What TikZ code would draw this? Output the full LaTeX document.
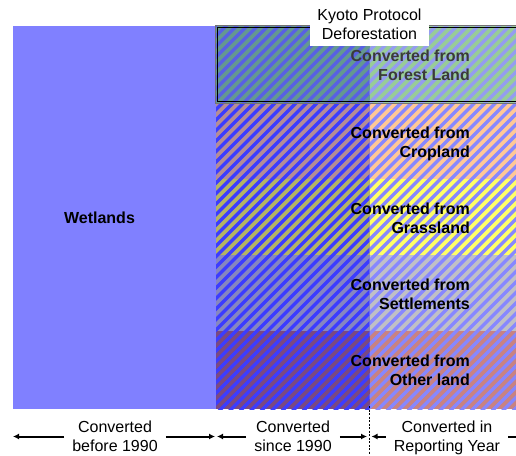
\documentclass[tikz,border=0pt]{standalone}
\usepackage{fontspec}
\setmainfont{Liberation Sans}
\usetikzlibrary{arrows.meta}
\definecolor{wet}{RGB}{128,128,255}
\definecolor{forL}{RGB}{100,152,145}
\definecolor{forR}{RGB}{152,204,152}
\definecolor{cropL}{RGB}{180,140,150}
\definecolor{cropR}{RGB}{255,200,150}
\definecolor{grassL}{RGB}{180,180,100}
\definecolor{grassR}{RGB}{255,255,102}
\definecolor{setL}{RGB}{134,134,192}
\definecolor{setR}{RGB}{192,192,198}
\definecolor{othL}{RGB}{122,72,130}
\definecolor{othR}{RGB}{200,130,130}
\definecolor{stripeL}{RGB}{60,60,255}
\definecolor{stripeR}{RGB}{135,135,255}
\definecolor{fstripeL}{RGB}{88,96,228}
\definecolor{fstripeR}{RGB}{148,156,240}
\definecolor{fortext}{RGB}{58,58,58}
\begin{document}
\begin{tikzpicture}[x=1pt,y=-1pt,
  rowlabel/.style={anchor=north east, align=right, inner sep=0pt, font=\bfseries\fontsize{16}{19.5}\selectfont},
  botlabel/.style={anchor=north, align=center, inner xsep=8pt, inner ysep=0pt, font=\fontsize{16}{19.5}\selectfont},
  arr/.style={line width=2pt, -{Latex[length=6pt,width=6pt]}},
  stripes/.style={line width=3.5pt}]
\useasboundingbox (0,0) rectangle (516,455);
\clip (0,0) rectangle (516,455);
% wetlands block
\fill[wet] (13,26) rectangle (216,409);
% cells
\fill[forL] (216,26) rectangle (369.5,103);
\fill[forR] (369.5,26) rectangle (516,103);
\fill[cropL] (216,103) rectangle (369.5,179);
\fill[cropR] (369.5,103) rectangle (516,179);
\fill[grassL] (216,179) rectangle (369.5,255);
\fill[grassR] (369.5,179) rectangle (516,255);
\fill[setL] (216,255) rectangle (369.5,331);
\fill[setR] (369.5,255) rectangle (516,331);
\fill[othL] (216,331) rectangle (369.5,409);
\fill[othR] (369.5,331) rectangle (516,409);
% stripes
\begin{scope}
  \clip (216,103) rectangle (369.5,409);
  \foreach \k in {-26,...,54} \draw[stripes, stripeL] (10.5*\k,420) -- ++(420,-420);
\end{scope}
\begin{scope}
  \clip (369.5,103) rectangle (516,409);
  \foreach \k in {-26,...,54} \draw[stripes, stripeR] (10.5*\k,420) -- ++(420,-420);
\end{scope}
\begin{scope}
  \clip (216,26) rectangle (369.5,103);
  \foreach \k in {-26,...,54} \draw[stripes, fstripeL] (10.5*\k,420) -- ++(420,-420);
\end{scope}
\begin{scope}
  \clip (369.5,26) rectangle (516,103);
  \foreach \k in {-26,...,54} \draw[stripes, fstripeR] (10.5*\k,420) -- ++(420,-420);
\end{scope}
% forest frame
\draw[line width=0.9pt, black!55] (215.8,25.8) rectangle (530,103.3);
\draw[line width=0.8pt, black] (217.6,27.4) rectangle (530,101.7);
% labels
\node[anchor=base, inner sep=0pt, font=\bfseries\fontsize{16}{19.5}\selectfont] (wl) at (99.5,223.3) {Wetlands};
\node[rowlabel, text=fortext] (lfor) at (470,49.4) {Converted from\\Forest Land};
\node[rowlabel] (lcrop) at (470,126.4) {Converted from\\Cropland};
\node[rowlabel] (lgrass) at (470,202.4) {Converted from\\Grassland};
\node[rowlabel] (lset) at (470,278.4) {Converted from\\Settlements};
\node[rowlabel] (loth) at (470,354.4) {Converted from\\Other land};
% Kyoto label
\node[anchor=north, align=center, fill=white, inner xsep=7.5pt, inner ysep=6pt, font=\fontsize{16}{19.5}\selectfont] (kyoto) at (369.5,2.5) {Kyoto Protocol\\Deforestation};
% bottom
\coordinate (a0) at (13,436.5);
\coordinate (a1l) at (215,436.5);
\coordinate (a1r) at (217,436.5);
\coordinate (a2l) at (367,436.5);
\coordinate (a2r) at (371.5,436.5);
\coordinate (a3) at (540,436.5);
\coordinate (dtop) at (369.5,406);
\coordinate (dbot) at (369.5,455);
\node[botlabel] (b1) at (115,420.6) {Converted\\before 1990};
\node[botlabel] (b2) at (293,420.6) {Converted\\since 1990};
\node[botlabel] (b3) at (447,420.6) {Converted in\\Reporting Year};
\draw[arr] (b1.west |- a0) -- (a0);
\draw[arr] (b1.east |- a0) -- (a1l);
\draw[arr] (b2.west |- a0) -- (a1r);
\draw[arr] (b2.east |- a0) -- (a2l);
\draw[arr] (b3.west |- a0) -- (a2r);
\draw[arr] (b3.east |- a0) -- (a3);
\draw[line width=0.6pt, dash pattern=on 2pt off 1.5pt] (dtop) -- (dbot);
\end{tikzpicture}
\end{document}
